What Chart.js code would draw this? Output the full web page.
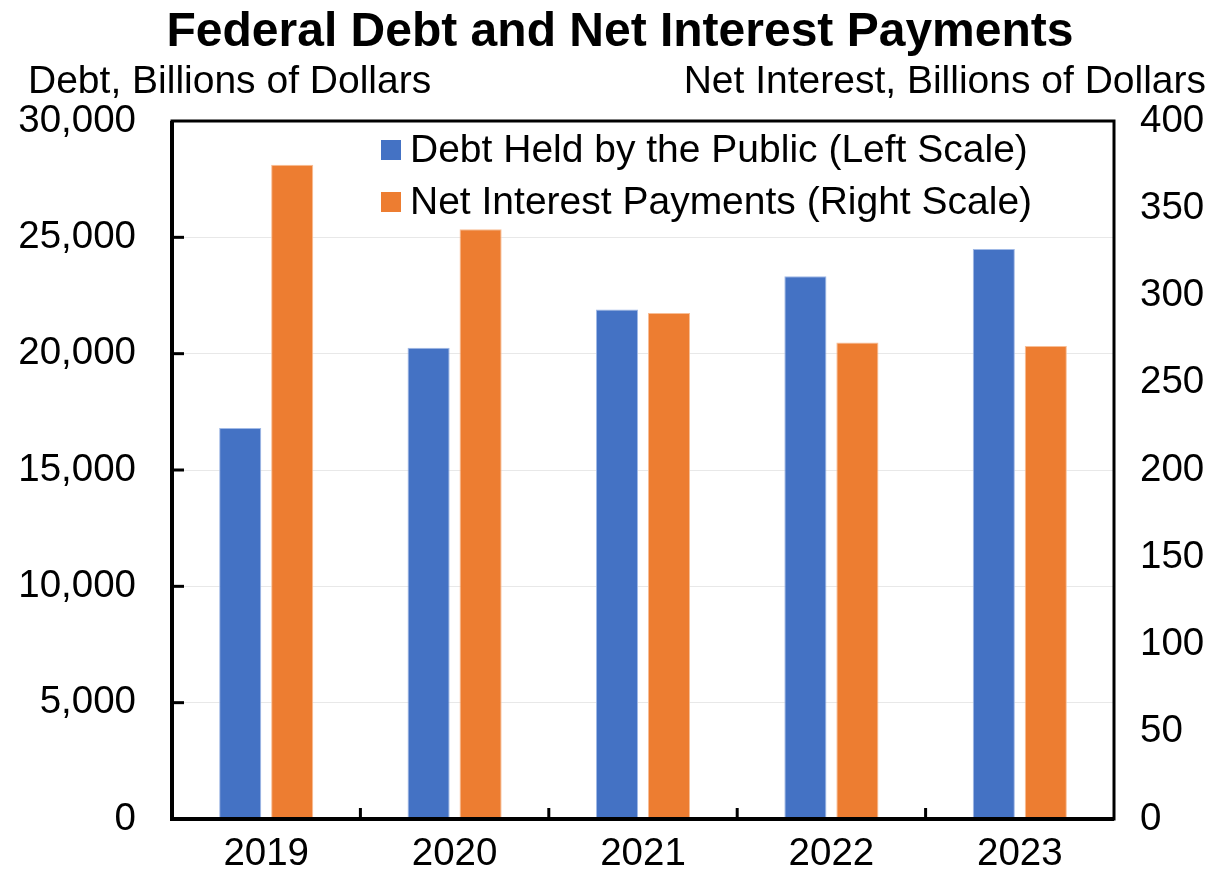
<!DOCTYPE html>
<html>
<head>
<meta charset="utf-8">
<script src="https://cdn.jsdelivr.net/npm/chart.js@4"></script>
<style>
  body { margin: 0; background: #fff; }
  #wrap { width: 1219px; height: 872px; }
</style>
</head>
<body>
<div id="wrap"><canvas id="myChart" width="1219" height="872"></canvas></div>
<script>
  // data block
  const years = ['2019', '2020', '2021', '2022', '2023'];
  const debtHeld = [16800, 20250, 21900, 23330, 24500];
  const netInterest = [375, 338, 290, 273, 271];
  const seriesNames = ['Debt Held by the Public (Left Scale)', 'Net Interest Payments (Right Scale)'];

  const FONT = "'Liberation Sans', Arial, sans-serif";
  const blue = 'rgb(68, 114, 196)';
  const orange = 'rgb(237, 125, 49)';

  const data = {
    labels: years,
    datasets: [{
      label: seriesNames[0],
      data: debtHeld,
      yAxisID: 'y',
      backgroundColor: blue,
      borderColor: 'rgb(160, 185, 230)',
      borderWidth: 1,
      categoryPercentage: 0.552,
      barPercentage: 0.81
    }, {
      label: seriesNames[1],
      data: netInterest,
      yAxisID: 'y1',
      backgroundColor: orange,
      borderColor: 'rgb(248, 190, 150)',
      borderWidth: 1,
      categoryPercentage: 0.552,
      barPercentage: 0.81
    }]
  };

  // titles, legend, frame and inward ticks
  const decor = {
    id: 'decor',
    afterDatasetsDraw(chart) {
      const {ctx, chartArea: {top, bottom, left, right}, scales: {x, y}} = chart;
      ctx.save();

      // inward ticks on the left axis
      ctx.strokeStyle = '#000';
      ctx.lineWidth = 3;
      y.ticks.forEach(t => {
        if (t.value >= y.max) return;
        const py = y.getPixelForValue(t.value);
        ctx.beginPath();
        ctx.moveTo(left, py);
        ctx.lineTo(left + 12, py);
        ctx.stroke();
      });
      // inward ticks between categories
      for (let i = 1; i < years.length; i++) {
        const px = (x.getPixelForTick(i - 1) + x.getPixelForTick(i)) / 2;
        ctx.beginPath();
        ctx.moveTo(px, bottom);
        ctx.lineTo(px, bottom - 11);
        ctx.stroke();
      }

      // frame
      ctx.lineWidth = 3;
      ctx.strokeRect(left, top, right - left, bottom - top);
      ctx.lineWidth = 4;
      ctx.beginPath();
      ctx.moveTo(left, top);
      ctx.lineTo(left, bottom);
      ctx.lineTo(right, bottom);
      ctx.stroke();

      // legend inside the plot
      ctx.font = `39px ${FONT}`;
      ctx.textBaseline = 'middle';
      ctx.textAlign = 'left';
      chart.data.datasets.forEach((ds, i) => {
        const cy = 150 + i * 52;
        ctx.fillStyle = ds.backgroundColor;
        ctx.fillRect(381, cy - 10, 20, 20);
        ctx.fillStyle = '#000';
        ctx.fillText(ds.label, 410, cy + 1);
      });

      // chart title and axis titles
      ctx.fillStyle = '#000';
      ctx.font = `bold 48px ${FONT}`;
      ctx.textAlign = 'center';
      ctx.fillText('Federal Debt and Net Interest Payments', 620, 33);
      ctx.font = `39px ${FONT}`;
      ctx.textAlign = 'left';
      ctx.fillText('Debt, Billions of Dollars', 28, 82);
      ctx.textAlign = 'right';
      ctx.fillText('Net Interest, Billions of Dollars', 1206, 82);

      ctx.restore();
    }
  };

  const tickFont = {family: FONT, size: 38.5};
  // small line height on the value axes so their label padding does not shrink the plot
  const sideTickFont = {family: FONT, size: 38.5, lineHeight: 0.4};

  const options = {
    responsive: false,
    animation: false,
    layout: {padding: {top: 121, left: 0, right: 0, bottom: 0}},
    plugins: {
      legend: {display: false},
      tooltip: {enabled: false},
      title: {display: false}
    },
    scales: {
      x: {
        grid: {display: false, drawTicks: false},
        border: {display: false},
        ticks: {font: tickFont, color: '#000', padding: 12},
        afterFit(scale) { scale.height = 53; }
      },
      y: {
        position: 'left',
        min: 0,
        max: 30000,
        grid: {color: '#e8e8e8', lineWidth: 1, drawTicks: false},
        border: {display: false},
        ticks: {
          stepSize: 5000,
          font: sideTickFont,
          color: '#000',
          padding: 36,
          callback: v => v.toLocaleString('en-US')
        },
        afterFit(scale) { scale.width = 172; }
      },
      y1: {
        position: 'right',
        min: 0,
        max: 400,
        grid: {display: false, drawTicks: false},
        border: {display: false},
        ticks: {stepSize: 50, font: sideTickFont, color: '#000', padding: 26},
        afterFit(scale) { scale.width = 105; }
      }
    }
  };

  const config = {
    type: 'bar',
    data,
    options,
    plugins: [decor]
  };

  const myChart = new Chart(document.getElementById('myChart'), config);
</script>
</body>
</html>
